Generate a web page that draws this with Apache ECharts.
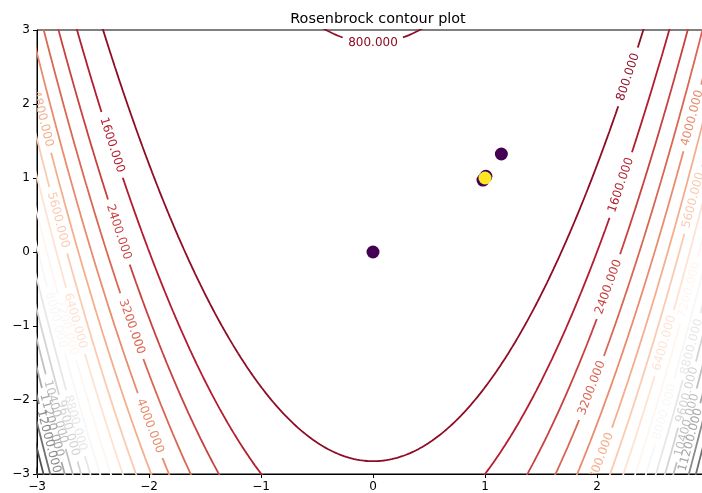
<!DOCTYPE html>
<html><head><meta charset="utf-8">
<script src="https://cdn.jsdelivr.net/npm/echarts@6/dist/echarts.min.js"></script>
<style>html,body{margin:0;padding:0;background:#fff}#c{width:702px;height:493px}</style>
</head><body><div id="c"></div>
<script>
// ---------------- data ----------------
const chartTitle = 'Rosenbrock contour plot';
// contour levels of f(x,y) = (1-x)^2 + 100 (y - x^2)^2
const levels = [800,1600,2400,3200,4000,4800,5600,6400,7200,8000,8800,9600,10400,11200,12000,12800,13600,14400];
const xTicks = [-3,-2,-1,0,1,2,3];
const yTicks = [-3,-2,-1,0,1,2,3];
// optimisation path points
const pathX = [0, 1.146, 0.982, 1.008, 1.0];
const pathY = [0, 1.324, 0.972, 1.022, 1.0];
const pathC = [0, 0, 0, 0, 1];
// inline contour labels: level, branch, anchor (x for 'top', y otherwise)
const labelLevel  = [800, 800, 1600, 1600, 2400, 2400, 3200, 3200, 4000, 4000, 4800, 4800, 5600, 5600, 6400, 6400, 7200, 7200, 8000, 8000, 8800, 8800, 9600, 9600, 10400, 10400, 11200, 11200, 12000];
const labelBranch = ['top','right','left','right','left','right','left','right','left','right','left','right','left','right','left','right','left','right','left','right','left','right','left','right','left','right','left','right','left'];
const labelAnchor = [0, 2.365, 1.446, 0.905, 0.27, -0.473, -1.01, -1.838, -2.35, 1.81, 1.80, -2.81, 0.43, 0.70, -0.93, -1.23, -1.02, -0.51, -0.92, -2.16, -2.31, -1.28, -2.38, -1.93, -2.16, -2.34, -2.34, -2.54, -2.56];

// ---------------- helpers ----------------
const rdgy = ['#67001f','#b2182b','#d6604d','#f4a582','#fddbc7','#ffffff','#e0e0e0','#bababa','#878787','#4d4d4d','#1a1a1a'];
const colorNorm = [0, 15200];
const viridisEnds = ['#440154', '#fde725'];
function hex2rgb(h){return [parseInt(h.slice(1,3),16),parseInt(h.slice(3,5),16),parseInt(h.slice(5,7),16)];}
function cmap(t){
  t = Math.max(0, Math.min(1, t));
  const p = t * (rdgy.length - 1);
  const i = Math.min(rdgy.length - 2, Math.floor(p));
  const f = p - i;
  const a = hex2rgb(rdgy[i]), b = hex2rgb(rdgy[i+1]);
  const c = a.map((v,k)=>Math.round(v + (b[k]-v)*f));
  return 'rgb(' + c.join(',') + ')';
}
function levelColor(c){ return cmap((c - colorNorm[0]) / (colorNorm[1] - colorNorm[0])); }
// branch of the level set f = c : y = x^2 +/- sqrt(c - (1-x)^2)/10
function branchY(c, x, sign){ const r = c - (1-x)*(1-x); return r < 0 ? NaN : x*x + sign*Math.sqrt(r)/10; }
function solveX(c, y, side){
  let lo = side === 'left' ? -3.6 : 0.0, hi = side === 'left' ? 0.0 : 3.6;
  for (let k=0;k<80;k++){
    const m = (lo+hi)/2, g = branchY(c, m, -1);
    if (side === 'left') { if (g > y) lo = m; else hi = m; }
    else { if (g > y) hi = m; else lo = m; }
  }
  return (lo+hi)/2;
}
const measureCtx = document.createElement('canvas').getContext('2d');
measureCtx.font = '12px "DejaVu Sans"';
const fmt = v => v.toFixed(3);
const tickFmt = v => (v < 0 ? '\u2212' + Math.abs(v) : String(v));

// ---------------- chart ----------------
const chart = echarts.init(document.getElementById('c'), null, {renderer:'canvas', width:702, height:493});
const axisCommon = {
  type:'value', min:-3, max:3, interval:1,
  axisLine:{show:true, onZero:false, lineStyle:{color:'#000', width:1}},
  axisTick:{show:true, inside:false, length:4, lineStyle:{color:'#000', width:1}},
  axisLabel:{color:'#000', fontSize:12, fontFamily:'DejaVu Sans', margin:7, formatter:tickFmt},
  splitLine:{show:false}
};
chart.setOption({
  animation:false,
  backgroundColor:'#ffffff',
  title:{text:chartTitle, left:373, top:7, textAlign:'center',
    textStyle:{fontFamily:'DejaVu Sans', fontSize:14.4, fontWeight:'normal', color:'#000'}},
  grid:{left:37, top:30, right:-7, bottom:19, containLabel:false, outerBoundsMode:'none',
    show:true, borderColor:'#000', borderWidth:1, backgroundColor:'transparent'},
  xAxis:Object.assign({}, axisCommon),
  yAxis:Object.assign({}, axisCommon),
  series:[]
});
const toPx = (x,y) => chart.convertToPixel({gridIndex:0}, [x,y]);

// label geometry
const labels = labelLevel.map((c, i) => {
  let x, y, sign;
  if (labelBranch[i] === 'top') { x = labelAnchor[i]; sign = 1; y = branchY(c, x, 1); }
  else { y = labelAnchor[i]; sign = -1; x = solveX(c, y, labelBranch[i]); }
  const p = toPx(x, y);
  const p1 = toPx(x - 0.01, branchY(c, x - 0.01, sign));
  const p2 = toPx(x + 0.01, branchY(c, x + 0.01, sign));
  let ang = Math.atan2(-(p2[1]-p1[1]), p2[0]-p1[0]);
  if (ang > Math.PI/2) ang -= Math.PI;
  if (ang <= -Math.PI/2) ang += Math.PI;
  const text = fmt(c);
  const w = measureCtx.measureText(text).width;
  return {c, x, y, px:p, rot:ang, text, half: w/2 + 5.5, color: levelColor(c)};
});

// contour line segments
const series = [];
levels.forEach(c => {
  const col = levelColor(c);
  const myLabels = labels.filter(l => l.c === c);
  [-1, 1].forEach(sign => {
    let seg = [];
    const flush = () => { if (seg.length > 1) series.push({
      type:'line', data:seg, showSymbol:false, symbol:'none', clip:true, silent:true, z:2,
      lineStyle:{color:col, width:1.8}, emphasis:{disabled:true}}); seg = []; };
    for (let i = 0; i <= 3100; i++) {
      const x = -3.1 + i * 0.002;
      const y = branchY(c, x, sign);
      if (!isFinite(y) || y < -3.3 || y > 3.3) { flush(); continue; }
      const p = toPx(x, y);
      const inGap = myLabels.some(l => Math.hypot(p[0]-l.px[0], p[1]-l.px[1]) < l.half);
      if (inGap) { flush(); continue; }
      seg.push([x, y]);
    }
    flush();
  });
});

// inline labels
series.push({
  type:'custom', coordinateSystem:'cartesian2d', clip:true, silent:true, z:3,
  data: labels.map(l => [l.x, l.y]),
  encode:{x:0, y:1},
  renderItem: (params, api) => {
    const l = labels[params.dataIndex];
    const p = api.coord([api.value(0), api.value(1)]);
    return {type:'text', x:p[0], y:p[1], rotation:l.rot,
      style:{text:l.text, fill:l.color, font:'12px "DejaVu Sans"', align:'center', verticalAlign:'middle'}};
  }
});

// path points
series.push({
  type:'scatter', z:5, symbol:'circle', symbolSize:13, silent:true,
  data: pathX.map((x, i) => ({value:[x, pathY[i]], itemStyle:{color: viridisEnds[pathC[i]], opacity:1}}))
});

chart.setOption({series});
</script>
</body></html>
